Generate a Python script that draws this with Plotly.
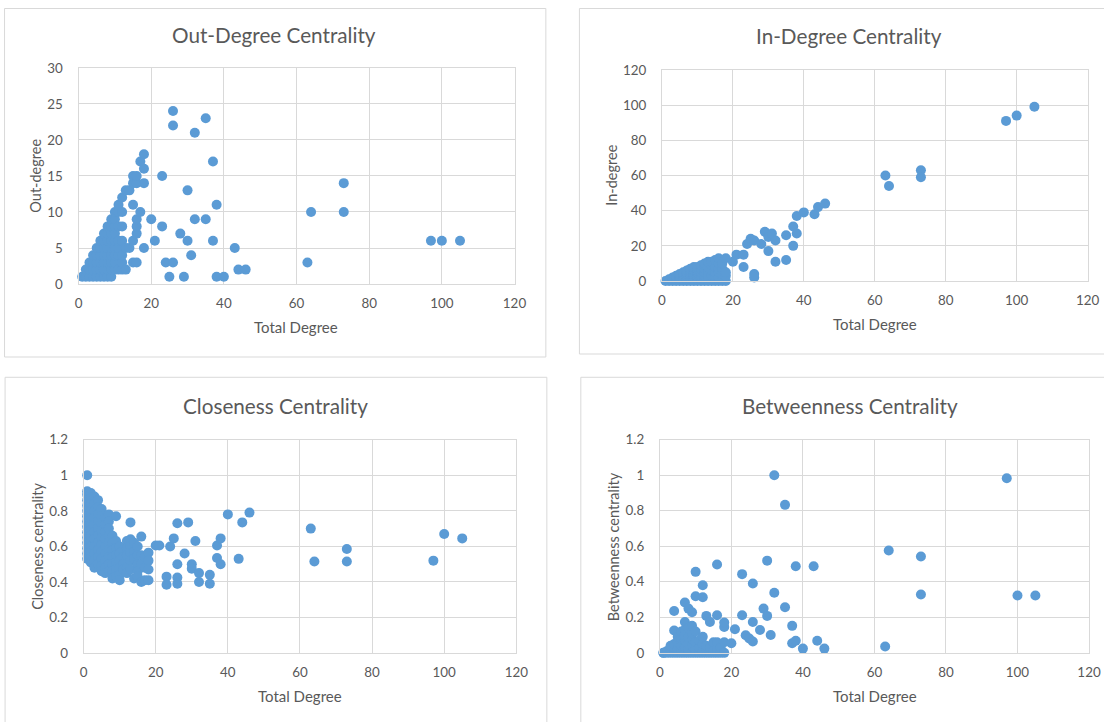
import plotly.graph_objects as go

# ---- data: (total degree, measure) per node, one list per chart ----
out_points = [
    (1, 1), (2, 1), (2, 2), (3, 1), (3, 2), (3, 3), (4, 1), (4, 2), (4, 3), (4, 4),
    (5, 1), (5, 2), (5, 3), (5, 4), (5, 5),
    (6, 1), (6, 2), (6, 3), (6, 4), (6, 5), (6, 6),
    (7, 1), (7, 2), (7, 3), (7, 4), (7, 5), (7, 6), (7, 7),
    (8, 1), (8, 2), (8, 3), (8, 4), (8, 5), (8, 6), (8, 7), (8, 8),
    (9, 1), (9, 2), (9, 3), (9, 4), (9, 5), (9, 6), (9, 7), (9, 8), (9, 9),
    (10, 2), (10, 3), (10, 4), (10, 5), (10, 6), (10, 7), (10, 8), (10, 9), (10, 10),
    (11, 2), (11, 4), (11, 5), (11, 6), (11, 8), (11, 10), (11, 11),
    (12, 2), (12, 3), (12, 4), (12, 6), (12, 8), (12, 10), (12, 12),
    (13, 2), (13, 5), (13, 13), (14, 5), (14, 13),
    (15, 3), (15, 6), (15, 11), (15, 14), (15, 15),
    (16, 3), (16, 7), (16, 8), (16, 9), (16, 14), (16, 15),
    (17, 10), (17, 17), (18, 5), (18, 14), (18, 16), (18, 18),
    (20, 9), (21, 6), (23, 15), (23, 8), (24, 3), (25, 1), (26, 24), (26, 22),
    (26, 3), (28, 7), (29, 1), (30, 13), (30, 6), (31, 4), (32, 21), (32, 9),
    (35, 23), (35, 9), (37, 17), (37, 6), (38, 11), (38, 1), (40, 1), (43, 5),
    (44, 2), (46, 2), (63, 3), (64, 10), (73, 14), (73, 10), (97, 6), (100, 6), (105, 6),
]

in_points = [
    (1, 0), (2, 0), (2, 1), (3, 0), (3, 1), (3, 2), (4, 0), (4, 1), (4, 2), (4, 3),
    (5, 0), (5, 1), (5, 2), (5, 3), (5, 4),
    (6, 0), (6, 1), (6, 2), (6, 3), (6, 4), (6, 5),
    (7, 0), (7, 1), (7, 2), (7, 3), (7, 4), (7, 5), (7, 6),
    (8, 0), (8, 1), (8, 2), (8, 3), (8, 4), (8, 5), (8, 6), (8, 7),
    (9, 0), (9, 1), (9, 2), (9, 3), (9, 4), (9, 5), (9, 6), (9, 7), (9, 8),
    (10, 0), (10, 1), (10, 2), (10, 3), (10, 4), (10, 5), (10, 6), (10, 7), (10, 8),
    (11, 0), (11, 1), (11, 2), (11, 3), (11, 5), (11, 7), (11, 9),
    (12, 0), (12, 1), (12, 3), (12, 5), (12, 7), (12, 9), (12, 10),
    (13, 0), (13, 2), (13, 5), (13, 8), (13, 11),
    (14, 0), (14, 3), (14, 6), (14, 9), (14, 11),
    (15, 0), (15, 3), (15, 5), (15, 8), (15, 12),
    (16, 0), (16, 2), (16, 5), (16, 7), (16, 10), (16, 13),
    (17, 0), (17, 4), (17, 7), (17, 10), (18, 0), (18, 3), (18, 5), (18, 13),
    (20, 11), (21, 15), (23, 15), (23, 8), (24, 21), (25, 24), (26, 23), (26, 4),
    (26, 2), (28, 21), (29, 28), (30, 25), (30, 17), (31, 27), (32, 23), (32, 11),
    (35, 26), (35, 12), (37, 31), (37, 20), (38, 37), (38, 27), (40, 39), (43, 38),
    (44, 42), (46, 44), (63, 60), (64, 54), (73, 63), (73, 59), (97, 91), (100, 94), (105, 99),
]

closeness_points = [
    (1, 1.0), (1, 0.91), (1, 0.89), (1, 0.86), (1, 0.83), (1, 0.80), (1, 0.77), (1, 0.74),
    (1, 0.71), (1, 0.68), (1, 0.65), (1, 0.62), (1, 0.59), (1, 0.56), (1, 0.53),
    (2, 0.90), (2, 0.87), (2, 0.84), (2, 0.80), (2, 0.76), (2, 0.72), (2, 0.69), (2, 0.66),
    (2, 0.63), (2, 0.60), (2, 0.57), (2, 0.54), (2, 0.51),
    (3, 0.88), (3, 0.84), (3, 0.80), (3, 0.76), (3, 0.72), (3, 0.68), (3, 0.64), (3, 0.60),
    (3, 0.56), (3, 0.52), (3, 0.48),
    (4, 0.86), (4, 0.82), (4, 0.78), (4, 0.74), (4, 0.70), (4, 0.66), (4, 0.62), (4, 0.58),
    (4, 0.54), (4, 0.50),
    (5, 0.81), (5, 0.77), (5, 0.73), (5, 0.69), (5, 0.65), (5, 0.61), (5, 0.57), (5, 0.53),
    (5, 0.49), (5, 0.46),
    (6, 0.76), (6, 0.72), (6, 0.68), (6, 0.64), (6, 0.60), (6, 0.56), (6, 0.52), (6, 0.48), (6, 0.45),
    (7, 0.78), (7, 0.74), (7, 0.70), (7, 0.66), (7, 0.62), (7, 0.58), (7, 0.54), (7, 0.50), (7, 0.46),
    (8, 0.66), (8, 0.62), (8, 0.58), (8, 0.54), (8, 0.50), (8, 0.46), (8, 0.42),
    (9, 0.77), (9, 0.63), (9, 0.59), (9, 0.55), (9, 0.51), (9, 0.47), (9, 0.43),
    (10, 0.60), (10, 0.56), (10, 0.52), (10, 0.48), (10, 0.44), (10, 0.41),
    (11, 0.58), (11, 0.54), (11, 0.50), (11, 0.47),
    (12, 0.63), (12, 0.59), (12, 0.55), (12, 0.48), (12, 0.45),
    (13, 0.735), (13, 0.64), (13, 0.60), (13, 0.56), (13, 0.52), (13, 0.47),
    (14, 0.62), (14, 0.57), (14, 0.53), (14, 0.42),
    (15, 0.60), (15, 0.55), (15, 0.50), (15, 0.46), (15, 0.43),
    (16, 0.655), (16, 0.55), (16, 0.50), (16, 0.40),
    (17, 0.54), (17, 0.48), (17, 0.41),
    (18, 0.565), (18, 0.52), (18, 0.47), (18, 0.41),
    (20, 0.605), (21, 0.605), (23, 0.43), (23, 0.385), (24, 0.60), (25, 0.645), (26, 0.73),
    (26, 0.50), (26, 0.425), (26, 0.39), (28, 0.56), (29, 0.735), (30, 0.50), (30, 0.475),
    (31, 0.63), (32, 0.45), (32, 0.40), (35, 0.44), (35, 0.39), (37, 0.605), (37, 0.535),
    (38, 0.645), (38, 0.50), (40, 0.78), (43, 0.53), (44, 0.735), (46, 0.79), (63, 0.70),
    (64, 0.515), (73, 0.585), (73, 0.515), (97, 0.52), (100, 0.67), (105, 0.645),
]

betweenness_points = [
    (1, 0.0), (1, 0.0), (2, 0.0), (2, 0.01), (3, 0.0), (3, 0.02), (3, 0.04),
    (4, 0.0), (4, 0.01), (4, 0.03), (4, 0.05), (4, 0.126), (4, 0.236),
    (5, 0.0), (5, 0.02), (5, 0.06), (5, 0.09),
    (6, 0.0), (6, 0.01), (6, 0.04), (6, 0.08), (6, 0.12),
    (7, 0.0), (7, 0.03), (7, 0.07), (7, 0.10), (7, 0.13), (7, 0.174), (7, 0.283),
    (8, 0.0), (8, 0.02), (8, 0.05), (8, 0.09), (8, 0.14), (8, 0.249),
    (9, 0.0), (9, 0.04), (9, 0.08), (9, 0.11), (9, 0.152), (9, 0.229),
    (10, 0.0), (10, 0.02), (10, 0.06), (10, 0.12), (10, 0.319), (10, 0.456),
    (11, 0.0), (11, 0.03), (11, 0.07),
    (12, 0.0), (12, 0.01), (12, 0.05), (12, 0.09), (12, 0.313), (12, 0.381),
    (13, 0.0), (13, 0.02), (13, 0.04), (13, 0.208),
    (14, 0.0), (14, 0.03), (14, 0.174),
    (15, 0.0), (15, 0.01), (15, 0.06),
    (16, 0.0), (16, 0.02), (16, 0.06), (16, 0.212), (16, 0.497),
    (17, 0.0), (17, 0.03), (18, 0.0), (18, 0.06), (18, 0.146), (18, 0.171),
    (20, 0.054), (21, 0.133), (23, 0.443), (23, 0.212), (24, 0.099), (25, 0.081),
    (26, 0.39), (26, 0.174), (26, 0.064), (28, 0.129), (29, 0.249), (30, 0.519),
    (30, 0.208), (31, 0.101), (32, 1.0), (32, 0.338), (35, 0.833), (35, 0.257),
    (37, 0.152), (37, 0.054), (38, 0.488), (38, 0.068), (40, 0.024), (43, 0.488),
    (44, 0.068), (46, 0.024), (63, 0.036), (64, 0.576), (73, 0.542), (73, 0.328),
    (97, 0.983), (100, 0.323), (105, 0.323),
]

x_ticks = [0, 20, 40, 60, 80, 100, 120]

# Layout positions below are given in screen pixels of the final 1104 x 722 view.
# The page adds the body's default 8px margin and is fitted to the view, so the
# figure is sized to make that page 1129 x 738.
VIEW_W, VIEW_H = 1104, 722
BODY = 8
W, H = 1113, 722
SX = VIEW_W / (W + 2 * BODY)
SY = VIEW_H / (H + 2 * BODY)

BLUE = "#5B9BD5"
GRID = "#d9d9d9"
TEXT = "#595959"
FONT = "Lato"


def px(x):
    return (x / SX - BODY) / W


def py(y):
    return 1 - (y / SY - BODY) / H


panels = [
    dict(title="Out-Degree Centrality", pts=out_points, ytitle="Out-degree",
         yrange=[0, 30], dtick=5,
         box=(81.8, 514.3, 67.7, 284.0), frame=(7.9, 545.4, 6.0, 357.0),
         title_xy=(275.5, 35.0), xt_xy=(298.0, 327.0), yt_x=39.3),
    dict(title="In-Degree Centrality", pts=in_points, ytitle="In-degree",
         yrange=[0, 120], dtick=20,
         box=(660.6, 1082.9, 69.7, 281.0), frame=(578.7, 1113.0, 7.3, 354.0),
         title_xy=(845.7, 35.7), xt_xy=(872.3, 324.0), yt_x=610.3),
    dict(title="Closeness Centrality", pts=closeness_points, ytitle="Closeness centrality",
         yrange=[0, 1.2], dtick=0.2,
         box=(86.8, 516.1, 439.7, 653.3), frame=(8.9, 546.4, 377.3, 740.0),
         title_xy=(277.1, 406.0), xt_xy=(301.0, 696.0), yt_x=41.0),
    dict(title="Betweenness Centrality", pts=betweenness_points, ytitle="Betweenness centrality",
         yrange=[0, 1.2], dtick=0.2,
         box=(658.5, 1084.3, 439.7, 653.0), frame=(580.1, 1113.0, 377.3, 740.0),
         title_xy=(847.6, 406.0), xt_xy=(872.3, 696.0), yt_x=612.0),
]

fig = go.Figure()
annotations = []
shapes = []

for i, p in enumerate(panels, start=1):
    xs = [a for a, _ in p["pts"]]
    ys = [b for _, b in p["pts"]]
    xa = "x" if i == 1 else f"x{i}"
    ya = "y" if i == 1 else f"y{i}"
    fig.add_trace(go.Scatter(
        x=xs, y=ys, mode="markers", xaxis=xa, yaxis=ya, cliponaxis=False,
        marker=dict(color=BLUE, size=10, line=dict(width=0)),
        showlegend=False, hoverinfo="x+y",
    ))
    l, r, t, b = p["box"]
    axis_common = dict(showgrid=True, gridcolor=GRID, gridwidth=1, showline=True,
                       linecolor=GRID, linewidth=1, mirror=True, zeroline=False,
                       ticks="", tickfont=dict(family=FONT, size=13.4, color=TEXT))
    fig.update_layout(**{
        ("xaxis" if i == 1 else f"xaxis{i}"): dict(
            domain=[px(l), px(r)], range=[0, 120], tickvals=x_ticks,
            anchor=ya, ticklabelstandoff=7, **axis_common),
        ("yaxis" if i == 1 else f"yaxis{i}"): dict(
            domain=[py(b), py(t)], range=p["yrange"], dtick=p["dtick"],
            anchor=xa, ticklabelstandoff=12, **axis_common),
    })
    fl, fr, ft, fb = p["frame"]
    shapes.append(dict(type="rect", xref="paper", yref="paper",
                       x0=max(px(fl), 0.0005), x1=px(fr), y0=py(fb), y1=min(py(ft), 0.9993),
                       line=dict(color=GRID, width=1), fillcolor="rgba(0,0,0,0)", layer="below"))
    tx, ty = p["title_xy"]
    annotations.append(dict(text=p["title"], xref="paper", yref="paper",
                            x=px(tx), y=py(ty), xanchor="center", yanchor="middle",
                            showarrow=False, font=dict(family=FONT, size=20.7, color=TEXT)))
    gx, gy = p["xt_xy"]
    annotations.append(dict(text="Total Degree", xref="paper", yref="paper",
                            x=px(gx), y=py(gy), xanchor="center", yanchor="middle",
                            showarrow=False, font=dict(family=FONT, size=15, color=TEXT)))
    annotations.append(dict(text=p["ytitle"], xref="paper", yref="paper",
                            x=px(p["yt_x"]), y=py((t + b) / 2), xanchor="center", yanchor="middle",
                            textangle=-90, showarrow=False,
                            font=dict(family=FONT, size=14.5, color=TEXT)))

fig.update_layout(
    width=W, height=H, margin=dict(l=0, r=0, t=0, b=0),
    paper_bgcolor="white", plot_bgcolor="white",
    annotations=annotations, shapes=shapes,
)

fig.write_html("out.html")
